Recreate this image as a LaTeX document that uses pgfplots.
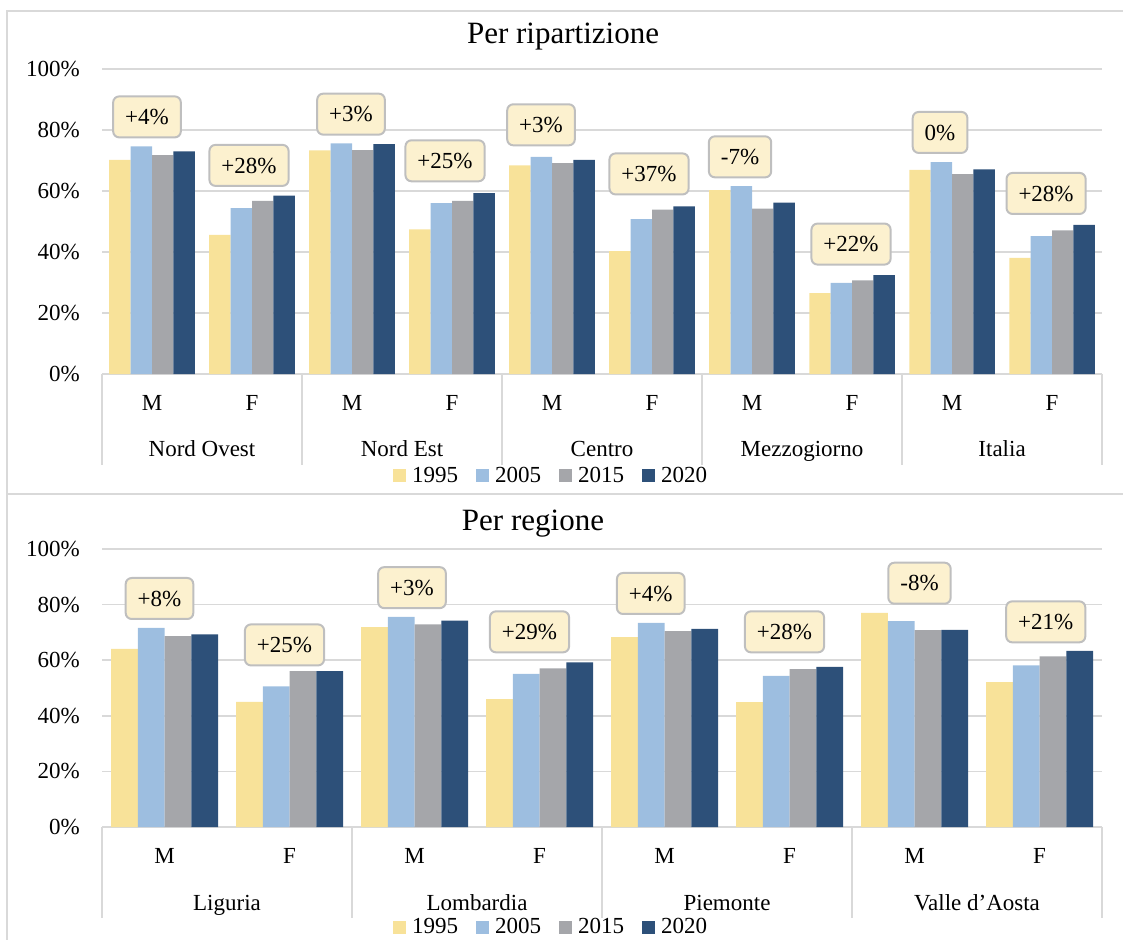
\documentclass[border=0pt]{standalone}
\usepackage{pgfplots}
\pgfplotsset{compat=1.18}
\usepackage{fontspec}
\setmainfont{Liberation Serif}
\definecolor{cA}{HTML}{F8E299}
\definecolor{cB}{HTML}{9DBEE0}
\definecolor{cC}{HTML}{A5A6AA}
\definecolor{cD}{HTML}{2D5079}
\definecolor{gridc}{HTML}{D9D9D9}
\definecolor{boxfill}{HTML}{FCF1CF}
\definecolor{boxdraw}{HTML}{BFBFBF}
\newcommand{\lblfont}{\fontsize{23}{26}\selectfont}
\pgfplotsset{
  mystyle/.style={
    scale only axis, anchor=south west,
    ybar=0pt, bar width=0.214,
    ymin=0, ymax=100, ytick={0,20,...,100},
    yticklabel={\pgfmathparse{int(\tick)}\pgfmathresult\%},
    ymajorgrids, grid style={gridc, line width=1.5pt},
    axis line style={draw=none}, major tick length=0pt,
    xtick=data, clip=false,
    ticklabel style={font=\lblfont},
    yticklabel style={anchor=east, inner sep=0pt, xshift=-22pt},
    xticklabel style={anchor=center, inner sep=0pt, yshift=-29pt},
    legend columns=4,
    legend style={draw=none, fill=none, font=\lblfont, anchor=center,
      /tikz/every odd column/.append style={column sep=4pt},
      /tikz/every even column/.append style={column sep=16pt}},
    legend image code/.code={\fill[##1] (0pt,-6.5pt) rectangle (13pt,6.5pt);},
  },
}
\tikzset{
  mycallout/.style={draw=boxdraw, line width=2pt, fill=boxfill, rounded corners=6pt,
    font=\lblfont, inner xsep=12pt, minimum height=41pt, text depth=0pt},
  grp/.style={font=\lblfont, text depth=0pt},
}
\begin{document}
\begin{tikzpicture}[x=1pt,y=1pt]
\useasboundingbox (0,0) rectangle (1123,-939);
\draw[gridc, line width=1.5pt] (7,-11) rectangle (1140,-494);
\draw[gridc, line width=1.5pt] (7,-494) rectangle (1140,-960);
\node[font=\fontsize{31}{34}\selectfont] at (563,-37) {Per ripartizione};
\node[font=\fontsize{31}{34}\selectfont] at (533,-524) {Per regione};

\begin{axis}[mystyle, at={(102pt,-374pt)}, width=1000pt, height=305pt,
  xmin=-0.5, xmax=9.5,
  xticklabels={M,F,M,F,M,F,M,F,M,F},
  legend style={at={(0.449,-0.334)}}]
\addplot[fill=cA, draw=none] coordinates {(0,70.2)(1,45.6)(2,73.3)(3,47.4)(4,68.4)(5,40.3)(6,60.3)(7,26.5)(8,66.9)(9,38.1)};
\addplot[fill=cB, draw=none] coordinates {(0,74.6)(1,54.4)(2,75.6)(3,56.0)(4,71.2)(5,50.8)(6,61.6)(7,29.9)(8,69.5)(9,45.2)};
\addplot[fill=cC, draw=none] coordinates {(0,71.8)(1,56.8)(2,73.4)(3,56.8)(4,69.1)(5,53.9)(6,54.2)(7,30.7)(8,65.5)(9,47.1)};
\addplot[fill=cD, draw=none] coordinates {(0,73.0)(1,58.5)(2,75.4)(3,59.3)(4,70.2)(5,55.0)(6,56.2)(7,32.4)(8,67.1)(9,48.9)};
\legend{1995,2005,2015,2020}
\pgfplotsinvokeforeach{-0.5,1.5,3.5,5.5,7.5,9.5}{
  \draw[gridc, line width=1.5pt] (axis cs:#1,0) -- ([yshift=-91pt]axis cs:#1,0);
}
\node[grp] at ([yshift=-75pt]axis cs:0.5,0) {Nord Ovest};
\node[grp] at ([yshift=-75pt]axis cs:2.5,0) {Nord Est};
\node[grp] at ([yshift=-75pt]axis cs:4.5,0) {Centro};
\node[grp] at ([yshift=-75pt]axis cs:6.5,0) {Mezzogiorno};
\node[grp] at ([yshift=-75pt]axis cs:8.5,0) {Italia};
\node[mycallout] at (axis cs:-0.05,84.3) {+4\%};
\node[mycallout] at (axis cs:0.97,68.4) {+28\%};
\node[mycallout] at (axis cs:1.99,85.2) {+3\%};
\node[mycallout] at (axis cs:2.93,69.9) {+25\%};
\node[mycallout] at (axis cs:3.89,81.7) {+3\%};
\node[mycallout] at (axis cs:4.97,65.6) {+37\%};
\node[mycallout] at (axis cs:5.88,71.2) {-7\%};
\node[mycallout] at (axis cs:6.99,42.6) {+22\%};
\node[mycallout] at (axis cs:7.88,79.2) {0\%};
\node[mycallout] at (axis cs:8.94,59.2) {+28\%};
\end{axis}

\begin{axis}[mystyle, at={(102pt,-827pt)}, width=1000pt, height=278pt,
  xmin=-0.5, xmax=7.5,
  xticklabels={M,F,M,F,M,F,M,F},
  legend style={at={(0.449,-0.36)}}]
\addplot[fill=cA, draw=none] coordinates {(0,64.1)(1,45.0)(2,71.9)(3,46.0)(4,68.3)(5,44.9)(6,77.0)(7,52.1)};
\addplot[fill=cB, draw=none] coordinates {(0,71.6)(1,50.6)(2,75.6)(3,55.1)(4,73.4)(5,54.4)(6,74.1)(7,58.1)};
\addplot[fill=cC, draw=none] coordinates {(0,68.7)(1,56.1)(2,72.9)(3,57.1)(4,70.5)(5,56.8)(6,70.8)(7,61.4)};
\addplot[fill=cD, draw=none] coordinates {(0,69.3)(1,56.1)(2,74.2)(3,59.2)(4,71.3)(5,57.6)(6,70.9)(7,63.4)};
\legend{1995,2005,2015,2020}
\pgfplotsinvokeforeach{-0.5,1.5,3.5,5.5,7.5}{
  \draw[gridc, line width=1.5pt] (axis cs:#1,0) -- ([yshift=-91pt]axis cs:#1,0);
}
\node[grp] at ([yshift=-76pt]axis cs:0.5,0) {Liguria};
\node[grp] at ([yshift=-76pt]axis cs:2.5,0) {Lombardia};
\node[grp] at ([yshift=-76pt]axis cs:4.5,0) {Piemonte};
\node[grp] at ([yshift=-76pt]axis cs:6.5,0) {Valle d{\char39}Aosta};
\node[mycallout] at (axis cs:-0.04,82.2) {+8\%};
\node[mycallout] at (axis cs:0.96,65.5) {+25\%};
\node[mycallout] at (axis cs:1.98,86.1) {+3\%};
\node[mycallout] at (axis cs:2.92,70.2) {+29\%};
\node[mycallout] at (axis cs:3.89,84.0) {+4\%};
\node[mycallout] at (axis cs:4.96,70.2) {+28\%};
\node[mycallout] at (axis cs:6.04,87.7) {-8\%};
\node[mycallout] at (axis cs:7.05,73.8) {+21\%};
\end{axis}
\end{tikzpicture}
\end{document}
